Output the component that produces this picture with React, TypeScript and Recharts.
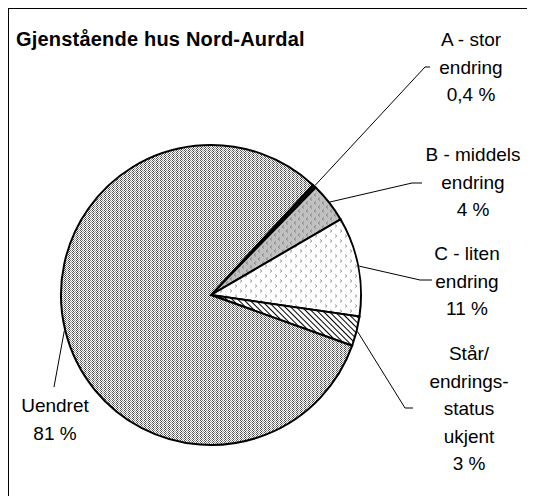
import React from "react"
import { PieChart, Pie, Cell } from "recharts"

// slices in drawing order (clockwise from the top-right)
const categories = ["A - stor endring", "B - middels endring", "C - liten endring", "Står/endringsstatus ukjent", "Uendret"]
const shares = [0.4, 4.3, 10.7, 3.2, 81.4]
const labelTexts = [
  ["A - stor", "endring", "0,4 %"],
  ["B - middels", "endring", "4 %"],
  ["C - liten", "endring", "11 %"],
  ["Står/", "endrings-", "status", "ukjent", "3 %"],
  ["Uendret", "81 %"],
]
const fills = ["#111", "url(#patB)", "url(#patC)", "url(#patD)", "url(#patU)"]

const title = "Gjenstående hus Nord-Aurdal"

// label placement: text centre x, first line y, leader bend and end
const labelLayout = [
  { tx: 462, ty: 30, bend: [416, 58], end: [421, 58] },
  { tx: 464, ty: 145, bend: [403, 174], end: [413, 174] },
  { tx: 458, ty: 244, bend: [411, 271], end: [423, 271] },
  { tx: 460, ty: 344, bend: [396, 399], end: [404, 399] },
  { tx: 46, ty: 396, bend: [45, 378], end: [45, 378] },
]

const data = categories.map((name, i) => ({ name, value: shares[i] }))

const FONT = "'Liberation Sans', Arial, sans-serif"
const LINE_H = 27.5
const RAD = Math.PI / 180

const renderLabel = (props: any) => {
  const { cx, cy, midAngle, outerRadius, index } = props
  const lay = labelLayout[index]
  const sx = cx + (outerRadius + 1) * Math.cos(-midAngle * RAD)
  const sy = cy + (outerRadius + 1) * Math.sin(-midAngle * RAD)
  return (
    <g key={"lbl" + index}>
      <polyline
        points={`${sx},${sy} ${lay.bend[0]},${lay.bend[1]} ${lay.end[0]},${lay.end[1]}`}
        fill="none"
        stroke="#000"
        strokeWidth={1}
      />
      <text textAnchor="middle" fontFamily={FONT} fontSize={19} fill="#000">
        {labelTexts[index].map((t, j) => (
          <tspan key={j} x={lay.tx} y={lay.ty + j * LINE_H + 7}>
            {t}
          </tspan>
        ))}
      </text>
    </g>
  )
}

const Patterns = () => (
  <svg width={0} height={0} style={{ position: "absolute" }}>
    <defs>
      <pattern id="patU" width={4} height={2} patternUnits="userSpaceOnUse">
        <rect width={4} height={2} fill="#fff" />
        <rect x={0} y={0} width={1} height={1} fill="#444" />
        <rect x={1} y={1} width={1} height={1} fill="#888" />
        <rect x={2} y={0} width={1} height={1} fill="#999" />
        <rect x={3} y={1} width={1} height={1} fill="#555" />
      </pattern>
      <pattern id="patB" width={8} height={8} patternUnits="userSpaceOnUse">
        <rect width={8} height={8} fill="#c0c0c0" />
        <path d="M2.5 0.5 L1.5 2 L2.5 3.5" stroke="#666" strokeWidth={0.8} fill="none" />
        <path d="M6.5 4.5 L5.5 6 L6.5 7.5" stroke="#666" strokeWidth={0.8} fill="none" />
      </pattern>
      <pattern id="patC" width={10} height={10} patternUnits="userSpaceOnUse">
        <rect width={10} height={10} fill="#fff" />
        <path d="M1.5 0.5 L2.5 2 L1.5 3.5" stroke="#666" strokeWidth={0.8} fill="none" />
        <path d="M6.5 5.5 L7.5 7 L6.5 8.5" stroke="#666" strokeWidth={0.8} fill="none" />
      </pattern>
      <pattern id="patD" width={4} height={4} patternUnits="userSpaceOnUse" patternTransform="rotate(-45)">
        <rect width={4} height={4} fill="#fff" />
        <line x1={0.5} y1={0} x2={0.5} y2={4} stroke="#000" strokeWidth={1} />
      </pattern>
    </defs>
  </svg>
)

export default function App() {
  return (
    <div
      style={{
        position: "relative",
        width: 527,
        height: 488,
        borderTop: "1px solid #000",
        borderLeft: "1px solid #000",
        boxSizing: "border-box",
        background: "#fff",
      }}
    >
      <Patterns />
      <div
        style={{
          position: "absolute",
          left: 7,
          top: 18,
          fontFamily: FONT,
          fontWeight: "bold",
          fontSize: 20,
          letterSpacing: 0.2,
          lineHeight: "24px",
          whiteSpace: "nowrap",
        }}
      >
        {title}
      </div>
      <PieChart
        width={526}
        height={487}
        margin={{ top: 0, right: 0, bottom: 0, left: 0 }}
        style={{ position: "absolute", left: 0, top: 0 }}
      >
        <Pie
          data={data}
          dataKey="value"
          nameKey="name"
          cx={202}
          cy={286}
          outerRadius={150}
          startAngle={47.2}
          endAngle={-312.8}
          stroke="#000"
          strokeWidth={2}
          label={renderLabel}
          labelLine={false}
          isAnimationActive={false}
        >
          {data.map((d, i) => (
            <Cell key={d.name} fill={fills[i]} />
          ))}
        </Pie>
      </PieChart>
    </div>
  )
}
